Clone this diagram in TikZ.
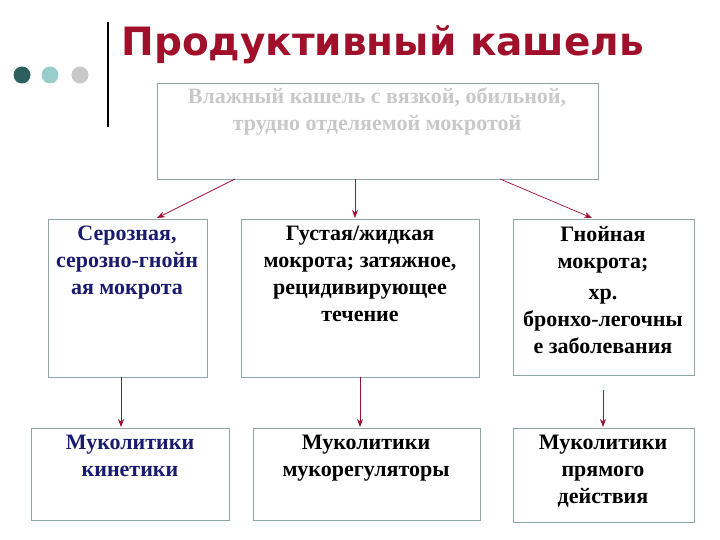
\documentclass[tikz,border=0pt]{standalone}
\usepackage{fontspec}
\setmainfont{Liberation Serif}
\newfontfamily\titlefont{DejaVu Sans}
\usetikzlibrary{arrows.meta}
\definecolor{titlered}{HTML}{A0102A}
\definecolor{boxline}{HTML}{8FA6A6}
\definecolor{arrred}{HTML}{A01030}
\definecolor{txtblue}{HTML}{1A1A6E}
\tikzset{
  panel/.style={draw=boxline, line width=0.8pt, anchor=north west, inner sep=0pt},
  label/.style={anchor=north, align=center, font=\bfseries\fontsize{22}{27}\selectfont, inner sep=0pt},
  link/.style={draw=arrred, line width=0.7pt, -{Stealth[length=8pt,width=6pt]}}
}
\begin{document}
\begin{tikzpicture}[x=1pt,y=-1pt]
	\useasboundingbox (0,0) rectangle (720,540);
	% header
	\fill[fill={rgb,255:red,46;green,95;blue,95}] (22,75) circle (8.5);
	\fill[fill={rgb,255:red,153;green,204;blue,204}] (50,75) circle (8.5);
	\fill[fill={rgb,255:red,200;green,200;blue,200}] (80,75) circle (8.5);
	\draw[line width=2.5pt] (108,22) -- (108,127);
	\node[anchor=west, text=titlered, font=\titlefont\bfseries\fontsize{39}{42}\selectfont] (title) at (118,45) {Продуктивный кашель};
	% boxes
	\node[panel, minimum width=441, minimum height=96] (top) at (157,83) {};
	\node[panel, minimum width=159, minimum height=158] (serous) at (48,219) {};
	\node[panel, minimum width=238, minimum height=158] (thick) at (241,219) {};
	\node[panel, minimum width=181, minimum height=156] (pus) at (513,219) {};
	\node[panel, minimum width=198, minimum height=92] (kin) at (31,428) {};
	\node[panel, minimum width=227, minimum height=92] (reg) at (253,428) {};
	\node[panel, minimum width=181, minimum height=94] (dir) at (513,428) {};
	% texts
	\node[label, text={rgb,255:red,200;green,200;blue,200}] (toptext) at (377,88) {Влажный кашель с вязкой, обильной,\\трудно отделяемой мокротой};
	\node[label, text=txtblue] (serousT) at (127,226) {Серозная,\\серозно-гнойн\\ая мокрота};
	\node[label] (thickT) at (360,226) {Густая/жидкая\\мокрота; затяжное,\\рецидивирующее\\течение};
	\node[label] (pusT) at (603,226) {Гнойная\\мокрота;\\[4pt]хр.\\бронхо-легочны\\е заболевания};
	\node[label, text=txtblue] (kinT) at (130,435) {Муколитики\\кинетики};
	\node[label] (regT) at (366,435) {Муколитики\\мукорегуляторы};
	\node[label] (dirT) at (603,435) {Муколитики\\прямого\\действия};
	% arrows
	\coordinate (t1) at (235,179);
	\coordinate (t2) at (355,179);
	\coordinate (t3) at (500,179);
	\draw[link] (t1) -- (157,218);
	\draw[link] (t2) -- (355,218);
	\draw[link] (t3) -- (592,218);
	\draw[link] (121,377) -- (121,427);
	\draw[link] (360,377) -- (360,427);
	\draw[link] (603,390) -- (603,427);
\end{tikzpicture}
\end{document}
